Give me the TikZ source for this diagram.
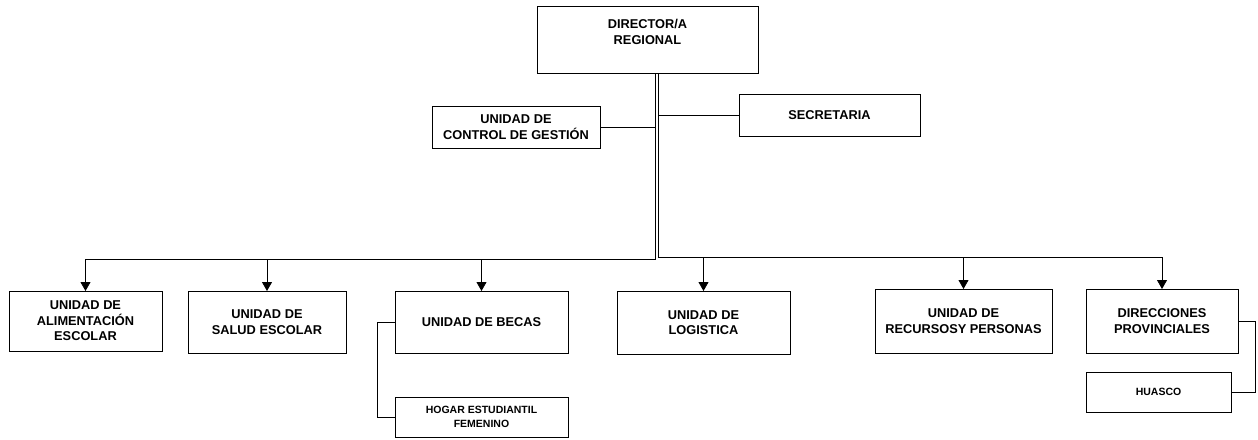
\documentclass[tikz,border=0pt]{standalone}
\usepackage{fontspec}
\setmainfont{Liberation Sans}
\usepackage{tikz}
\usetikzlibrary{arrows.meta}
\usetikzlibrary{positioning}

\begin{document}
\begin{tikzpicture}[x=1pt,y=-1pt,
	unitbox/.style={draw,line width=0.8pt,inner sep=0pt,outer sep=0pt,align=center,font=\fontsize{12.8}{15.5}\selectfont\bfseries},
	smallbox/.style={unitbox,font=\fontsize{10.5}{14}\selectfont\bfseries},
	drop/.style={line width=0.8pt,-{Triangle[width=10pt,length=9pt]}}]
\useasboundingbox (0,0) rectangle (1258,439);

%top boxes
\node[unitbox,minimum width=221pt,minimum height=67pt] (dir) at (647.5,39.5) {DIRECTOR/A\\REGIONAL\\~};
\node[unitbox,minimum width=168pt,minimum height=42pt] (ctrl) at (516,127) {UNIDAD DE\\CONTROL DE GESTI\'ON};
\node[unitbox,minimum width=181pt,minimum height=42pt] (sec) at (829.5,115) {SECRETARIA};

%units
\node[unitbox,minimum width=153pt,minimum height=60pt] (ali) at (85.5,321) {UNIDAD DE\\ALIMENTACI\'ON\\ESCOLAR};
\node[unitbox,minimum width=158pt,minimum height=62pt] (sal) at (267,322) {UNIDAD DE\\SALUD ESCOLAR};
\node[unitbox,minimum width=173pt,minimum height=62pt] (bec) at (481.5,322) {UNIDAD DE BECAS};
\node[smallbox,minimum width=173pt,minimum height=40pt] (hog) at (481.5,417) {HOGAR ESTUDIANTIL\\FEMENINO};
\node[unitbox,minimum width=173pt,minimum height=63pt] (log) at (703.5,322.5) {UNIDAD DE\\LOGISTICA};
\node[unitbox,minimum width=177pt,minimum height=64pt] (rec) at (963.5,321) {UNIDAD DE\\RECURSOSY PERSONAS};
\node[unitbox,minimum width=152pt,minimum height=64pt] (dirp) at (1162,321) {DIRECCIONES\\PROVINCIALES};
\node[smallbox,minimum width=145pt,minimum height=40pt] (hua) at (1158.5,392) {HUASCO};

%trunk (double line)
\coordinate (tl) at (655,259);
\coordinate (tr) at (658,257);
\draw[line width=0.8pt] (tl |- dir.south) -- (tl) -- (tl -| ali);
\draw[line width=0.8pt] (tr |- dir.south) -- (tr) -- (tr -| dirp);
\draw[line width=0.8pt] (ctrl.east) -- (ctrl.east -| tl);
\draw[line width=0.8pt] (sec.west) -- (sec.west -| tr);

%arrows down
\foreach\u in {ali,sal,bec}{\draw[drop] (tl -| \u) -- (\u.north);}
\foreach\u in {log,rec,dirp}{\draw[drop] (tr -| \u) -- (\u.north);}

%sub units
\draw[line width=0.8pt] (bec.west) -- ++(-18,0) |- (hog.west);
\draw[line width=0.8pt] (dirp.east) -- ++(17,0) |- (hua.east);
\end{tikzpicture}
\end{document}
